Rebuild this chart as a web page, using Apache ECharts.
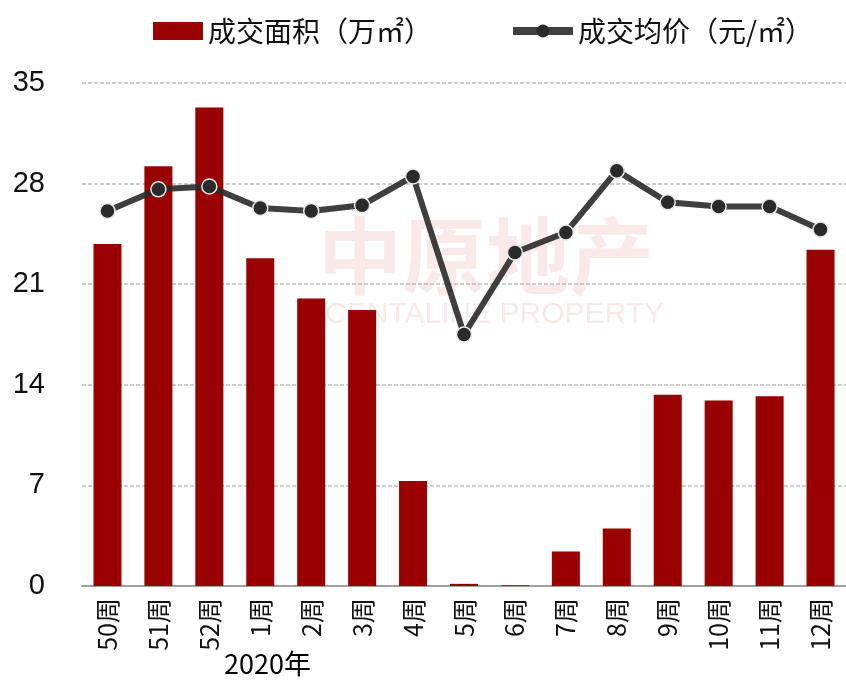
<!DOCTYPE html>
<html><head><meta charset="utf-8">
<script src="https://cdn.jsdelivr.net/npm/echarts@6/dist/echarts.min.js"></script>
<style>html,body{margin:0;padding:0;background:#fff}#c{width:846px;height:685px}</style>
</head><body><div id="c"></div>
<script>
const categories = ['50周','51周','52周','1周','2周','3周','4周','5周','6周','7周','8周','9周','10周','11周','12周'];
const areaValues = [23.8, 29.2, 33.3, 22.8, 20.0, 19.2, 7.3, 0.15, 0.05, 2.4, 4.0, 13.3, 12.9, 13.2, 23.4];
const priceValues = [26.1, 27.6, 27.8, 26.3, 26.1, 26.5, 28.5, 17.5, 23.2, 24.6, 28.9, 26.7, 26.4, 26.4, 24.8];
const yTicks = [0, 7, 14, 21, 28, 35];
const areaName = '成交面积（万㎡）';
const priceName = '成交均价（元/㎡）';
const yearLabel = '2020年';

const font = '"Noto Sans CJK SC", "Noto Sans", sans-serif';
const chart = echarts.init(document.getElementById('c'), null, {renderer: 'canvas'});
chart.setOption({
  animation: false,
  textStyle: {fontFamily: font},
  graphic: [
    {type: 'text', left: 318, top: 214, z: -10, silent: true,
     style: {text: '中原地产', fontSize: 84, fontWeight: 'bold', fill: 'rgba(200,40,40,0.10)', fontFamily: font}},
    {type: 'text', left: 325, top: 300, z: -10, silent: true,
     style: {text: 'CENTALINE PROPERTY', fontSize: 30, fill: 'rgba(200,40,40,0.10)', fontFamily: '"Liberation Sans", sans-serif'}},
    {type: 'text', left: 224, top: 650,
     style: {text: yearLabel, fontSize: 27, fill: '#000', fontFamily: font}}
  ],
  legend: [
    {data: [{name: areaName, icon: 'rect'}], left: 148, top: 12, itemWidth: 50, itemHeight: 18, itemGap: 6,
     textStyle: {fontSize: 28, color: '#111', fontFamily: font}},
    {data: [priceName], left: 504, top: 12, itemWidth: 60, itemHeight: 16, itemGap: 3,
     lineStyle: {width: 8, color: '#2a2a2a'},
     itemStyle: {color: '#2a2a2a', borderWidth: 0},
     textStyle: {fontSize: 28, color: '#111', fontFamily: font}}
  ],
  grid: {left: 82, right: 0, top: 83, bottom: 99, containLabel: false},
  xAxis: {
    type: 'category', data: categories,
    axisLine: {lineStyle: {color: '#a0a0a0', width: 2}},
    axisTick: {show: false},
    axisLabel: {rotate: 90, fontSize: 25, color: '#111', margin: 12, fontFamily: font}
  },
  yAxis: [
    {type: 'value', min: 0, max: 35, interval: 7,
     axisLine: {show: false}, axisTick: {show: false},
     axisLabel: {fontSize: 29, color: '#111', margin: 37, fontFamily: '"Liberation Sans Narrow", "Liberation Sans", sans-serif',
       formatter: v => yTicks.includes(v) ? String(v) : ''},
     splitLine: {lineStyle: {color: '#bdbdbd', type: [4, 2], width: 1.5}}},
    {type: 'value', min: 0, max: 35, show: false, splitLine: {show: false}}
  ],
  series: [
    {name: areaName, type: 'bar', data: areaValues, barWidth: '55%', yAxisIndex: 0,
     itemStyle: {color: '#990000'}},
    {name: priceName, type: 'line', data: priceValues, yAxisIndex: 1,
     symbol: 'circle', symbolSize: 15,
     lineStyle: {color: '#2a2a2a', width: 6, opacity: 0.9},
     itemStyle: {color: '#2a2a2a', borderColor: '#e8e8e8', borderWidth: 1.5}, z: 5}
  ]
});
</script></body></html>
